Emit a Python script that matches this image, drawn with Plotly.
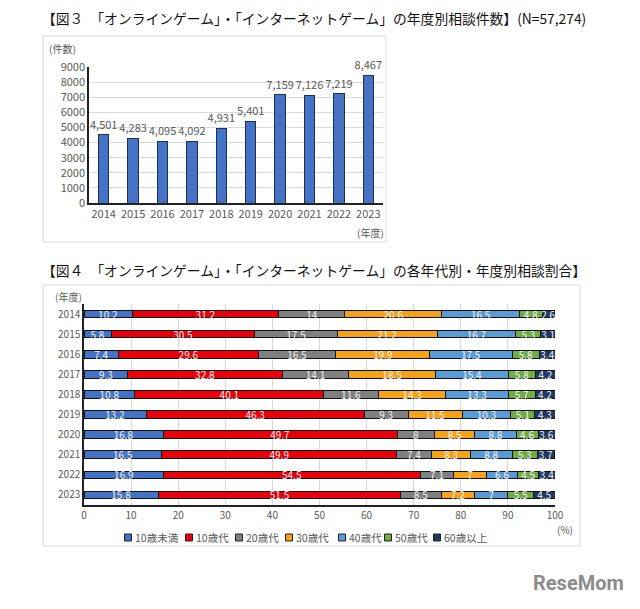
import plotly.graph_objects as go

years = ["2014", "2015", "2016", "2017", "2018", "2019", "2020", "2021", "2022", "2023"]
counts = [4501, 4283, 4095, 4092, 4931, 5401, 7159, 7126, 7219, 8467]

age_groups = ["10歳未満", "10歳代", "20歳代", "30歳代", "40歳代", "50歳代", "60歳以上"]
under10 = [10.2, 5.8, 7.4, 9.3, 10.8, 13.2, 16.8, 16.5, 16.9, 15.8]
teens = [31.2, 30.5, 29.6, 32.8, 40.1, 46.3, 49.7, 49.9, 54.5, 51.5]
twenties = [14, 17.5, 16.5, 14.1, 11.6, 9.3, 8, 7.4, 7.1, 8.5]
thirties = [20.6, 21.2, 19.9, 18.5, 14.3, 11.5, 8.5, 8.3, 7, 7.2]
forties = [16.5, 16.7, 17.5, 15.4, 13.3, 10.3, 8.8, 8.8, 6.6, 7]
fifties = [4.8, 5.3, 5.8, 5.8, 5.7, 5.1, 4.6, 5.3, 4.5, 5.5]
sixties = [2.6, 3.1, 3.4, 4.2, 4.2, 4.3, 3.6, 3.7, 3.4, 4.5]
share_series = [under10, teens, twenties, thirties, forties, fifties, sixties]
colors = ["#4472C4", "#E8000B", "#808080", "#F5A31A", "#5B9BD5", "#70AD47", "#1F3864"]

W, H = 640, 609
FONT = "Noto Sans CJK JP"
TICK = "#595959"

def px(x):
    return x / W

def py(y):
    return 1 - y / H

fig = go.Figure()

fig.add_trace(go.Bar(
    x=years, y=counts, xaxis="x", yaxis="y",
    marker=dict(color="#4472C4", line=dict(color="#1F2D4F", width=1)),
    width=0.36,
    text=counts, texttemplate="%{y:,}", textposition="outside",
    textangle=0, constraintext="none",
    textfont=dict(size=11, color=TICK, family=FONT),
    cliponaxis=False, showlegend=False,
))

for name, vals, col in zip(age_groups, share_series, colors):
    fig.add_trace(go.Bar(
        y=years, x=vals, orientation="h", xaxis="x2", yaxis="y2",
        name=name, showlegend=False,
        marker=dict(color=col, line=dict(color="#111111", width=1)),
        width=0.38,
        text=vals, texttemplate="%{x}", textposition="inside",
        insidetextanchor="middle", constraintext="none", textangle=0,
        textfont=dict(size=10, color="#F2F2F2", family=FONT),
    ))

fig.update_layout(
    width=W, height=H,
    margin=dict(l=0, r=0, t=0, b=0),
    paper_bgcolor="white", plot_bgcolor="white",
    barmode="stack", showlegend=False,
    font=dict(family=FONT, color=TICK),
    xaxis=dict(domain=[px(89), px(383)], anchor="y", showgrid=False, automargin=False,
               showline=True, linecolor="#222222", linewidth=1.5,
               tickfont=dict(size=11, color=TICK), ticks=""),
    yaxis=dict(domain=[py(203), py(67)], anchor="x", range=[0, 9000], dtick=1000,
               showgrid=True, gridcolor="#D9D9D9", zeroline=False, automargin=False,
               showline=True, linecolor="#222222", linewidth=1.5,
               tickfont=dict(size=11, color=TICK), ticks=""),
    xaxis2=dict(domain=[px(84), px(555)], anchor="y2", range=[0, 100], dtick=10,
                showgrid=True, gridcolor="#D9D9D9", zeroline=False, automargin=False,
                showline=True, linecolor="#222222", linewidth=1.5,
                tickfont=dict(size=10, color=TICK), ticks=""),
    yaxis2=dict(domain=[py(505), py(304)], anchor="x2", autorange="reversed", automargin=False,
                showline=True, linecolor="#222222", linewidth=1.5,
                tickfont=dict(size=10, color=TICK), ticks=""),
    bargap=0.6,
)

shapes = [
    dict(type="rect", xref="paper", yref="paper", x0=px(43), x1=px(386), y0=py(242), y1=py(36),
         line=dict(color="#D9D9D9", width=1)),
    dict(type="rect", xref="paper", yref="paper", x0=px(43), x1=px(580), y0=py(546), y1=py(285),
         line=dict(color="#D9D9D9", width=1)),
]

ann = [
    dict(text="【図３　「オンラインゲーム」・「インターネットゲーム」の年度別相談件数】(N=57,274)",
         x=px(40), y=py(18), xanchor="left", yanchor="middle", font=dict(size=13.8, color="#111111")),
    dict(text="【図４　「オンラインゲーム」・「インターネットゲーム」の各年代別・年度別相談割合】",
         x=px(40), y=py(270), xanchor="left", yanchor="middle", font=dict(size=13.8, color="#111111")),
    dict(text="(件数)", x=px(62), y=py(48), xanchor="center", yanchor="middle", font=dict(size=10, color=TICK)),
    dict(text="(年度)", x=px(370), y=py(232), xanchor="center", yanchor="middle", font=dict(size=10, color=TICK)),
    dict(text="(年度)", x=px(68), y=py(296), xanchor="center", yanchor="middle", font=dict(size=10, color=TICK)),
    dict(text="(%)", x=px(565), y=py(529), xanchor="center", yanchor="middle", font=dict(size=10, color=TICK)),
    dict(text="<b>ReseMom</b>", x=px(578), y=py(583), xanchor="center", yanchor="middle",
         font=dict(size=20, color="#8C8C8C", family="Roboto")),
]

# hand-placed legend (compact, like the reference)
legend_x = [128, 189, 239, 289, 342, 388, 437]
legend_y = 537.5
for name, col, lx in zip(age_groups, colors, legend_x):
    shapes.append(dict(type="rect", xref="paper", yref="paper",
                       x0=px(lx - 3.5), x1=px(lx + 3.5), y0=py(legend_y + 3.5), y1=py(legend_y - 3.5),
                       fillcolor=col, line=dict(color="#222222", width=1)))
    ann.append(dict(text=name, x=px(lx + 5), y=py(legend_y), xanchor="left", yanchor="middle",
                    font=dict(size=10.5, color=TICK)))

for a in ann:
    a.update(xref="paper", yref="paper", showarrow=False)
fig.update_layout(shapes=shapes, annotations=ann)

fig.write_html("out.html", config={"displayModeBar": False},
               post_script="document.body.style.margin='0';document.body.style.padding='0';")
